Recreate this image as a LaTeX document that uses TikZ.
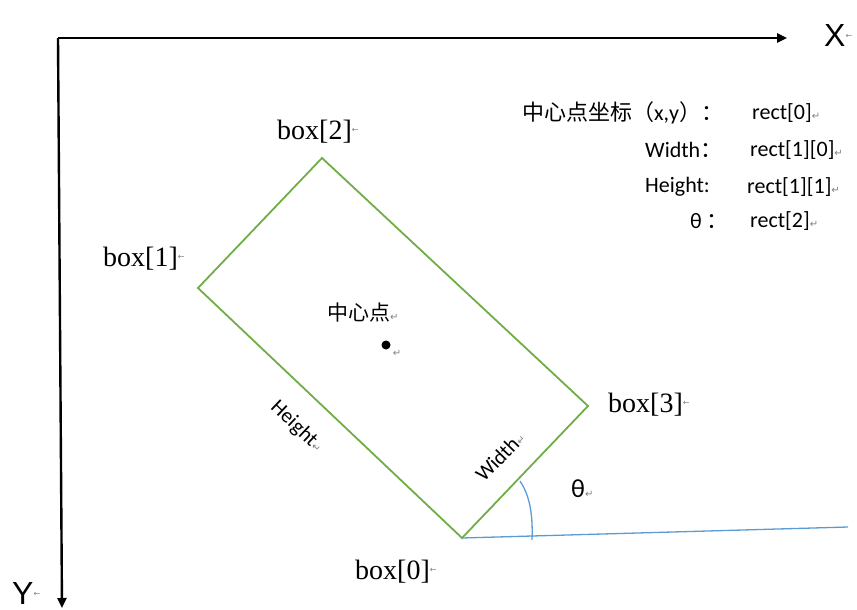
\documentclass[tikz,border=0pt]{standalone}
\usepackage{fontspec}
\usepackage{tikz}
\usetikzlibrary{arrows.meta}
\setmainfont{Liberation Serif}
\newfontfamily\cjk{Noto Sans CJK SC}
\newfontfamily\calib{Carlito}
\newfontfamily\arialf{Liberation Sans}
\newfontfamily\symbf{DejaVu Sans}
\definecolor{wordgreen}{RGB}{112,173,71}
\definecolor{wordblue}{RGB}{91,155,213}
\newcommand{\retmark}{{\symbf\fontsize{10}{10}\selectfont\textcolor{gray}{↵}}}
\newcommand{\lmark}{\raisebox{0.25em}{\symbf\fontsize{8}{8}\selectfont\textcolor{gray}{←}}}
\tikzset{
  axis/.style={black,line width=2.4pt,-{Triangle[length=10pt,width=9pt]}},
  boxline/.style={wordgreen,line width=1.8pt,line join=miter},
  angline/.style={wordblue,line width=1.3pt},
  boxlbl/.style={anchor=west,inner sep=0pt,font=\fontsize{28}{30}\selectfont},
  infolbl/.style={anchor=west,inner sep=0pt,font=\calib\fontsize{22}{24}\selectfont},
  axlbl/.style={anchor=west,inner sep=0pt,font=\arialf\fontsize{32}{34}\selectfont}
}
\begin{document}
\begin{tikzpicture}[x=1pt,y=-1pt]
  \useasboundingbox (0,0) rectangle (857,610);
  \coordinate (o) at (58,38);
  \coordinate (xend) at (787,38);
  \coordinate (yend) at (62,608);
  \draw[axis] (o) -- (xend);
  \draw[axis] (o) -- (yend);
  \node[axlbl] (xlbl) at (824,35) {X\lmark};
  \node[axlbl] (ylbl) at (12,593) {Y\lmark};

  \coordinate (b0) at (462,538);
  \coordinate (b1) at (198,288);
  \coordinate (b2) at (322,158);
  \coordinate (b3) at (588,406);
  \draw[boxline] (b0) -- (b1) -- (b2) -- (b3) -- cycle;
  \coordinate (ctr) at (386,345);
  \fill (ctr) circle (4.5);
  \node[inner sep=0pt] (ctrmark) at (397,353) {\retmark};
  \node[anchor=west,inner sep=0pt,font=\cjk\fontsize{21}{23}\selectfont] (ctrlbl) at (327,313) {中心点\retmark};

  \node[boxlbl] (l0) at (355,572) {box[0]\lmark};
  \node[boxlbl] (l1) at (103,259) {box[1]\lmark};
  \node[boxlbl] (l2) at (277,132) {box[2]\lmark};
  \node[boxlbl] (l3) at (608,405) {box[3]\lmark};

  \node[inner sep=1pt,font=\calib\fontsize{21}{23}\selectfont,rotate=-43.5] (hlbl) at (297,427) {Height\retmark};
  \node[inner sep=1pt,font=\calib\fontsize{21}{23}\selectfont,rotate=46] (wlbl) at (500,456) {Width\retmark};

  \coordinate (hor) at (848,527);
  \draw[angline] (b0) -- (hor);
  \draw[angline] (520,481) .. controls (530,496) and (533,515) .. (532,540);
  \node[anchor=west,inner sep=0pt,font=\calib\fontsize{26}{28}\selectfont] (tlbl) at (571,489) {θ\retmark};

  \node[infolbl] (i1) at (522,113) {{\cjk 中心点坐标（}x,y{\cjk ）：}};
  \node[infolbl] (v1) at (752,113) {rect[0]\retmark};
  \node[infolbl] (i2) at (645,150) {Width{\cjk ：}};
  \node[infolbl] (v2) at (750,150) {rect[1][0]\retmark};
  \node[infolbl] (i3) at (645,187) {Height:};
  \node[infolbl] (v3) at (747,187) {rect[1][1]\retmark};
  \node[infolbl] (i4) at (690,221) {θ {\cjk ：}};
  \node[infolbl] (v4) at (750,221) {rect[2]\retmark};
\end{tikzpicture}
\end{document}
